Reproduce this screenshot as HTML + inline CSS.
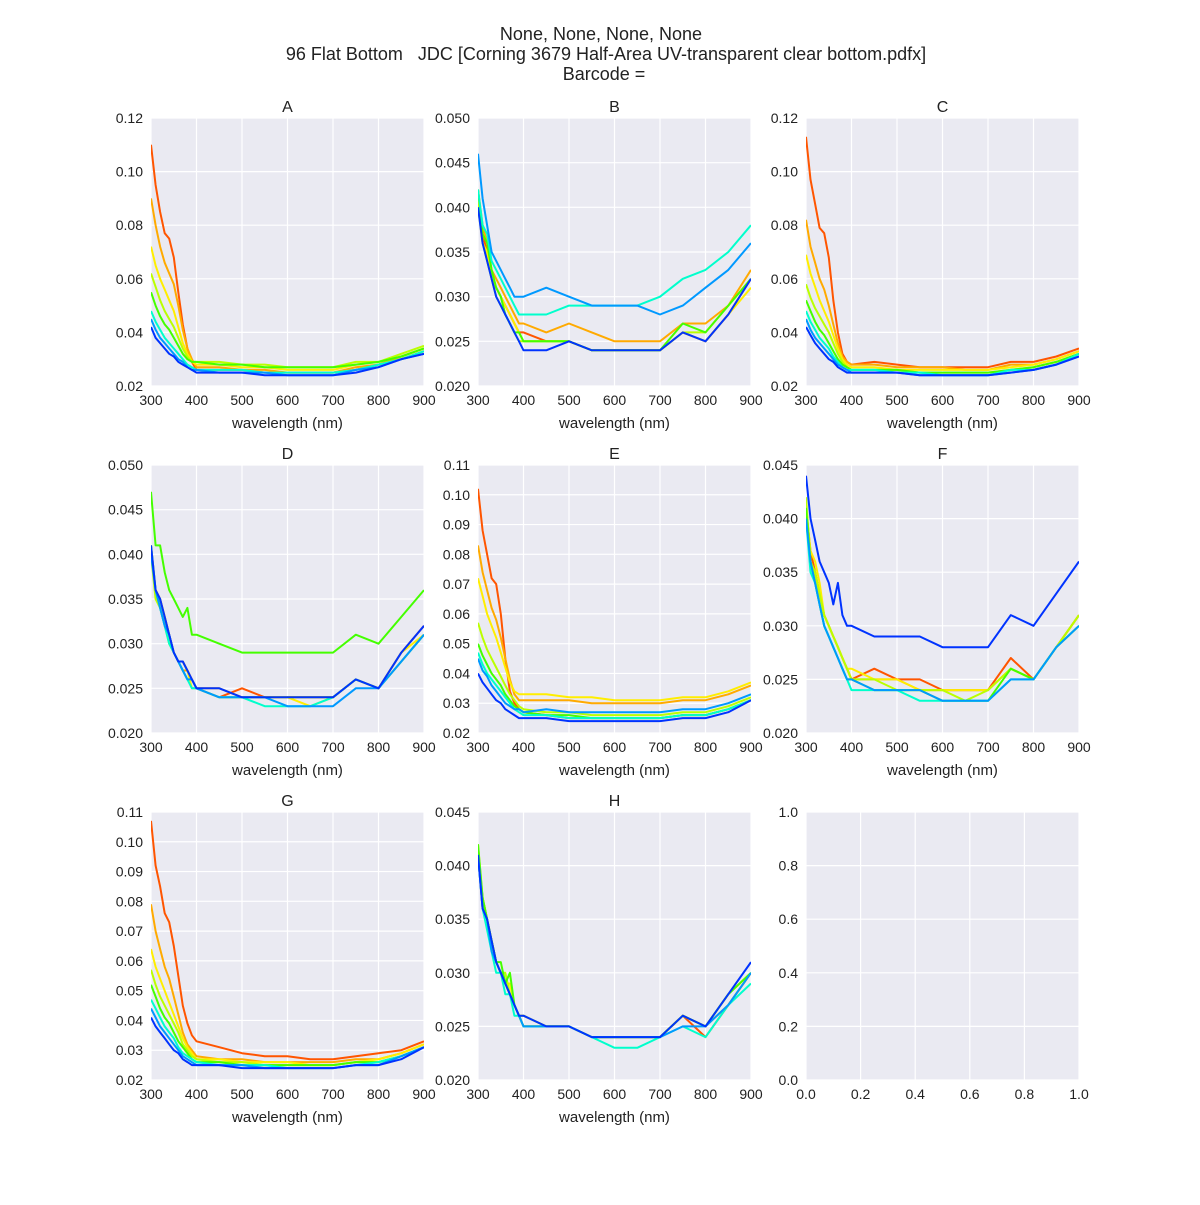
<!DOCTYPE html>
<html><head><meta charset="utf-8"><style>
body{margin:0;background:#fff;}
svg{font-family:"Liberation Sans",Arial,sans-serif;}
.pre{white-space:pre;}
</style></head><body>
<svg id="chart" width="1200" height="1200" viewBox="0 0 1200 1200">
<text x="601" y="40" font-size="18" text-anchor="middle" fill="#222">None, None, None, None</text>
<text class="pre" x="606" y="60" font-size="18" text-anchor="middle" fill="#222">96 Flat Bottom   JDC [Corning 3679 Half-Area UV-transparent clear bottom.pdfx]</text>
<text x="604" y="80" font-size="18" text-anchor="middle" fill="#222">Barcode =</text>
</svg>
<script>
const wavelengths=[300,310,320,330,340,350,360,370,380,390,400,450,500,550,600,650,700,750,800,850,900];
const seriesColors=['#ff5500','#ffaa00','#ffee00','#bbff00','#44ff00','#00ffcc','#0099ff','#0033ff'];
const panelTitles=['A','B','C','D','E','F','G','H'];
const ticksA=[0.02,0.04,0.06,0.08,0.10,0.12];
const ticksB=[0.020,0.025,0.030,0.035,0.040,0.045,0.050];
const ticksE=[0.02,0.03,0.04,0.05,0.06,0.07,0.08,0.09,0.10,0.11];
const ticksF=[0.020,0.025,0.030,0.035,0.040,0.045];
const xTicks=[300,400,500,600,700,800,900];
const emptyTicks=[0,0.2,0.4,0.6,0.8,1.0];
const dataA=[
[0.110,0.095,0.085,0.077,0.075,0.068,0.055,0.043,0.034,0.029,0.026,0.026,0.026,0.025,0.025,0.025,0.025,0.026,0.028,0.030,0.033],
[0.090,0.080,0.072,0.066,0.062,0.058,0.050,0.041,0.034,0.030,0.027,0.027,0.026,0.026,0.025,0.025,0.025,0.027,0.028,0.031,0.034],
[0.072,0.065,0.060,0.056,0.052,0.048,0.042,0.036,0.032,0.029,0.028,0.028,0.027,0.027,0.026,0.026,0.026,0.028,0.029,0.031,0.034],
[0.062,0.057,0.052,0.048,0.045,0.042,0.038,0.034,0.031,0.029,0.029,0.029,0.028,0.028,0.027,0.027,0.027,0.029,0.029,0.032,0.035],
[0.055,0.050,0.046,0.043,0.041,0.038,0.035,0.032,0.030,0.029,0.029,0.028,0.028,0.027,0.027,0.027,0.027,0.028,0.029,0.031,0.034],
[0.048,0.044,0.041,0.038,0.036,0.034,0.032,0.030,0.028,0.027,0.026,0.026,0.026,0.025,0.025,0.025,0.025,0.026,0.028,0.030,0.033],
[0.045,0.041,0.038,0.036,0.034,0.032,0.030,0.029,0.027,0.026,0.026,0.025,0.025,0.025,0.024,0.024,0.024,0.026,0.027,0.030,0.032],
[0.042,0.038,0.036,0.034,0.032,0.031,0.029,0.028,0.027,0.026,0.025,0.025,0.025,0.024,0.024,0.024,0.024,0.025,0.027,0.030,0.032]];
const dataB=[
[0.041,0.037,0.035,0.032,0.031,0.030,0.029,0.028,0.027,0.026,0.026,0.025,0.025,0.024,0.024,0.024,0.024,0.026,0.025,0.028,0.032],
[0.042,0.038,0.036,0.033,0.032,0.031,0.030,0.029,0.028,0.027,0.027,0.026,0.027,0.026,0.025,0.025,0.025,0.027,0.027,0.029,0.033],
[0.041,0.036,0.035,0.032,0.031,0.030,0.029,0.028,0.027,0.026,0.025,0.025,0.025,0.024,0.024,0.024,0.024,0.026,0.025,0.028,0.031],
[0.040,0.036,0.034,0.032,0.030,0.029,0.028,0.027,0.026,0.025,0.025,0.025,0.025,0.024,0.024,0.024,0.024,0.026,0.026,0.029,0.032],
[0.042,0.037,0.036,0.033,0.031,0.030,0.028,0.027,0.026,0.026,0.025,0.025,0.025,0.024,0.024,0.024,0.024,0.027,0.026,0.029,0.032],
[0.042,0.038,0.037,0.034,0.033,0.032,0.031,0.030,0.029,0.028,0.028,0.028,0.029,0.029,0.029,0.029,0.030,0.032,0.033,0.035,0.038],
[0.046,0.041,0.038,0.035,0.034,0.033,0.032,0.031,0.030,0.030,0.030,0.031,0.030,0.029,0.029,0.029,0.028,0.029,0.031,0.033,0.036],
[0.040,0.036,0.034,0.032,0.030,0.029,0.028,0.027,0.026,0.025,0.024,0.024,0.025,0.024,0.024,0.024,0.024,0.026,0.025,0.028,0.032]];
const dataC=[
[0.113,0.097,0.088,0.079,0.077,0.068,0.052,0.040,0.032,0.029,0.028,0.029,0.028,0.027,0.027,0.027,0.027,0.029,0.029,0.031,0.034],
[0.082,0.072,0.066,0.060,0.056,0.050,0.043,0.036,0.031,0.029,0.028,0.028,0.027,0.027,0.027,0.026,0.026,0.028,0.028,0.030,0.033],
[0.069,0.062,0.057,0.052,0.048,0.044,0.039,0.034,0.030,0.028,0.027,0.027,0.026,0.026,0.026,0.026,0.026,0.027,0.028,0.030,0.033],
[0.058,0.053,0.049,0.046,0.043,0.040,0.036,0.032,0.029,0.027,0.026,0.026,0.026,0.025,0.025,0.025,0.025,0.026,0.027,0.029,0.032],
[0.052,0.048,0.044,0.041,0.039,0.036,0.033,0.030,0.028,0.027,0.026,0.026,0.026,0.025,0.025,0.025,0.025,0.026,0.027,0.029,0.032],
[0.048,0.044,0.041,0.038,0.036,0.034,0.031,0.029,0.027,0.026,0.026,0.026,0.025,0.025,0.024,0.024,0.024,0.026,0.026,0.028,0.032],
[0.045,0.041,0.038,0.036,0.034,0.032,0.030,0.028,0.027,0.026,0.025,0.025,0.025,0.024,0.024,0.024,0.024,0.025,0.026,0.028,0.031],
[0.042,0.039,0.036,0.034,0.032,0.030,0.029,0.027,0.026,0.025,0.025,0.025,0.025,0.024,0.024,0.024,0.024,0.025,0.026,0.028,0.031]];
const dataD=[
[0.041,0.036,0.035,0.033,0.031,0.029,0.028,0.028,0.027,0.026,0.025,0.024,0.025,0.024,0.024,0.024,0.024,0.026,0.025,0.029,0.032],
[0.040,0.036,0.035,0.033,0.031,0.029,0.028,0.027,0.027,0.026,0.025,0.025,0.024,0.024,0.024,0.024,0.024,0.026,0.025,0.028,0.031],
[0.041,0.036,0.034,0.033,0.030,0.029,0.028,0.028,0.027,0.025,0.025,0.024,0.024,0.024,0.024,0.023,0.024,0.026,0.025,0.029,0.031],
[0.040,0.035,0.034,0.032,0.030,0.029,0.028,0.027,0.026,0.026,0.025,0.024,0.024,0.024,0.024,0.024,0.024,0.026,0.025,0.028,0.031],
[0.047,0.041,0.041,0.038,0.036,0.035,0.034,0.033,0.034,0.031,0.031,0.030,0.029,0.029,0.029,0.029,0.029,0.031,0.030,0.033,0.036],
[0.041,0.036,0.034,0.032,0.030,0.029,0.028,0.027,0.026,0.025,0.025,0.024,0.024,0.023,0.023,0.023,0.024,0.026,0.025,0.028,0.031],
[0.040,0.036,0.034,0.032,0.031,0.029,0.028,0.027,0.026,0.026,0.025,0.024,0.024,0.024,0.023,0.023,0.023,0.025,0.025,0.028,0.031],
[0.041,0.036,0.035,0.033,0.031,0.029,0.028,0.028,0.027,0.026,0.025,0.025,0.024,0.024,0.024,0.024,0.024,0.026,0.025,0.029,0.032]];
const dataE=[
[0.102,0.088,0.080,0.072,0.070,0.060,0.045,0.034,0.030,0.028,0.027,0.026,0.025,0.025,0.025,0.025,0.025,0.026,0.026,0.028,0.031],
[0.083,0.074,0.068,0.062,0.058,0.052,0.045,0.038,0.033,0.031,0.031,0.031,0.031,0.030,0.030,0.030,0.030,0.031,0.031,0.033,0.036],
[0.072,0.066,0.060,0.056,0.052,0.047,0.042,0.037,0.034,0.033,0.033,0.033,0.032,0.032,0.031,0.031,0.031,0.032,0.032,0.034,0.037],
[0.057,0.052,0.048,0.045,0.042,0.039,0.036,0.033,0.031,0.029,0.028,0.027,0.027,0.026,0.026,0.026,0.026,0.027,0.027,0.029,0.032],
[0.050,0.046,0.043,0.040,0.038,0.036,0.033,0.031,0.029,0.028,0.027,0.026,0.026,0.025,0.025,0.025,0.025,0.026,0.026,0.028,0.031],
[0.047,0.043,0.040,0.038,0.036,0.034,0.032,0.030,0.028,0.027,0.026,0.026,0.025,0.025,0.025,0.025,0.025,0.026,0.026,0.028,0.031],
[0.045,0.041,0.039,0.036,0.034,0.032,0.030,0.029,0.028,0.028,0.027,0.028,0.027,0.027,0.027,0.027,0.027,0.028,0.028,0.030,0.033],
[0.040,0.037,0.035,0.033,0.031,0.030,0.028,0.027,0.026,0.025,0.025,0.025,0.024,0.024,0.024,0.024,0.024,0.025,0.025,0.027,0.031]];
const dataF=[
[0.041,0.037,0.035,0.033,0.031,0.030,0.029,0.028,0.027,0.026,0.025,0.026,0.025,0.025,0.024,0.024,0.024,0.027,0.025,0.028,0.031],
[0.040,0.036,0.035,0.033,0.031,0.030,0.029,0.028,0.027,0.026,0.025,0.025,0.025,0.024,0.024,0.024,0.024,0.026,0.025,0.028,0.031],
[0.041,0.037,0.036,0.034,0.031,0.030,0.029,0.028,0.027,0.026,0.026,0.025,0.025,0.024,0.024,0.024,0.024,0.026,0.025,0.028,0.030],
[0.042,0.036,0.035,0.033,0.031,0.030,0.029,0.028,0.027,0.026,0.025,0.025,0.024,0.024,0.024,0.023,0.024,0.026,0.025,0.028,0.031],
[0.041,0.036,0.034,0.032,0.030,0.029,0.028,0.027,0.026,0.025,0.025,0.024,0.024,0.024,0.023,0.023,0.023,0.026,0.025,0.028,0.030],
[0.040,0.035,0.034,0.032,0.030,0.029,0.028,0.027,0.026,0.025,0.024,0.024,0.024,0.023,0.023,0.023,0.023,0.025,0.025,0.028,0.030],
[0.040,0.036,0.034,0.032,0.030,0.029,0.028,0.027,0.026,0.025,0.025,0.024,0.024,0.024,0.023,0.023,0.023,0.025,0.025,0.028,0.030],
[0.044,0.040,0.038,0.036,0.035,0.034,0.032,0.034,0.031,0.030,0.030,0.029,0.029,0.029,0.028,0.028,0.028,0.031,0.030,0.033,0.036]];
const dataG=[
[0.107,0.092,0.085,0.076,0.073,0.065,0.055,0.045,0.039,0.035,0.033,0.031,0.029,0.028,0.028,0.027,0.027,0.028,0.029,0.030,0.033],
[0.079,0.070,0.064,0.058,0.054,0.048,0.042,0.036,0.032,0.030,0.028,0.027,0.027,0.026,0.026,0.026,0.026,0.027,0.027,0.029,0.032],
[0.064,0.058,0.054,0.050,0.046,0.042,0.038,0.034,0.031,0.029,0.027,0.027,0.026,0.026,0.026,0.025,0.025,0.026,0.027,0.029,0.032],
[0.057,0.052,0.048,0.045,0.042,0.039,0.036,0.032,0.030,0.028,0.027,0.026,0.026,0.025,0.025,0.025,0.025,0.026,0.026,0.028,0.031],
[0.052,0.048,0.044,0.041,0.039,0.036,0.033,0.031,0.029,0.027,0.026,0.026,0.025,0.025,0.025,0.025,0.025,0.026,0.026,0.028,0.031],
[0.047,0.044,0.041,0.038,0.036,0.034,0.031,0.029,0.028,0.027,0.026,0.025,0.025,0.025,0.024,0.024,0.024,0.025,0.026,0.028,0.031],
[0.044,0.041,0.038,0.036,0.034,0.032,0.030,0.028,0.027,0.026,0.025,0.025,0.025,0.024,0.024,0.024,0.024,0.025,0.025,0.028,0.031],
[0.041,0.038,0.036,0.034,0.032,0.030,0.029,0.027,0.026,0.025,0.025,0.025,0.024,0.024,0.024,0.024,0.024,0.025,0.025,0.027,0.031]];
const dataH=[
[0.041,0.037,0.035,0.033,0.031,0.030,0.029,0.028,0.027,0.026,0.025,0.025,0.025,0.024,0.024,0.024,0.024,0.026,0.024,0.027,0.030],
[0.041,0.036,0.035,0.033,0.031,0.030,0.029,0.028,0.027,0.026,0.026,0.025,0.025,0.024,0.024,0.024,0.024,0.026,0.025,0.027,0.030],
[0.042,0.037,0.035,0.032,0.031,0.030,0.029,0.029,0.027,0.026,0.025,0.025,0.025,0.024,0.024,0.024,0.024,0.026,0.025,0.028,0.030],
[0.041,0.037,0.035,0.033,0.031,0.030,0.030,0.028,0.027,0.026,0.026,0.025,0.025,0.024,0.024,0.024,0.024,0.026,0.025,0.028,0.030],
[0.042,0.037,0.035,0.033,0.031,0.031,0.029,0.030,0.027,0.026,0.025,0.025,0.025,0.024,0.024,0.024,0.024,0.026,0.025,0.028,0.030],
[0.041,0.036,0.034,0.032,0.030,0.030,0.028,0.028,0.026,0.026,0.025,0.025,0.025,0.024,0.023,0.023,0.024,0.025,0.024,0.027,0.029],
[0.041,0.036,0.035,0.032,0.031,0.030,0.029,0.028,0.027,0.026,0.025,0.025,0.025,0.024,0.024,0.024,0.024,0.025,0.025,0.027,0.030],
[0.041,0.036,0.035,0.033,0.031,0.030,0.029,0.028,0.027,0.026,0.026,0.025,0.025,0.024,0.024,0.024,0.024,0.026,0.025,0.028,0.031]];
const panelData=[dataA,dataB,dataC,dataD,dataE,dataF,dataG,dataH];
const panelTicks=[ticksA,ticksB,ticksA,ticksB,ticksE,ticksF,ticksE,ticksF];
const panelDecimals=[2,3,2,3,2,3,2,3];

const NS='http://www.w3.org/2000/svg';
const svg=document.getElementById('chart');
const colX=[151,478,806], rowY=[118,465,812], PW=273, PH=268;
function mk(tag,attrs,parent){const e=document.createElementNS(NS,tag);for(const k in attrs)e.setAttribute(k,attrs[k]);(parent||svg).appendChild(e);return e;}
function drawAxes(g,x0,y0,xt,yt,xs,ys,dec,xdec,xlabel){
  mk('rect',{x:x0,y:y0,width:PW,height:PH,fill:'#eaeaf2'},g);
  xt.forEach(v=>{const x=xs(v);mk('line',{x1:x,x2:x,y1:y0,y2:y0+PH,stroke:'#fff','stroke-width':1.2},g);
    const t=mk('text',{x:x,y:y0+PH+19,'font-size':14,'text-anchor':'middle',fill:'#222'},g);t.textContent=v.toFixed(xdec);
    });
  yt.forEach(v=>{const y=ys(v);mk('line',{x1:x0,x2:x0+PW,y1:y,y2:y,stroke:'#fff','stroke-width':1.2},g);
    const t=mk('text',{x:x0-8,y:y+5,'font-size':14,'text-anchor':'end',fill:'#222'},g);t.textContent=v.toFixed(dec);
    });
  if(xlabel){const t=mk('text',{x:x0+PW/2,y:y0+PH+42,'font-size':15,'text-anchor':'middle',fill:'#222'},g);t.textContent=xlabel;
    }
}
panelData.forEach((series,p)=>{
  const x0=colX[p%3], y0=rowY[Math.floor(p/3)];
  const yt=panelTicks[p], ymin=yt[0], ymax=yt[yt.length-1];
  const xs=v=>x0+(v-300)/600*PW, ys=v=>y0+PH-(v-ymin)/(ymax-ymin)*PH;
  const g=mk('g',{});
  
  
  drawAxes(g,x0,y0,xTicks,yt,xs,ys,panelDecimals[p],0,'wavelength (nm)');
  const tt=mk('text',{x:x0+PW/2,y:y0-6,'font-size':16,'text-anchor':'middle',fill:'#222'},g);tt.textContent=panelTitles[p];
  
  const cp=mk('clipPath',{id:'cp'+p},g);mk('rect',{x:x0,y:y0,width:PW,height:PH},cp);
  series.forEach((vals,i)=>{
    const d=vals.map((v,j)=>(j?'L':'M')+xs(wavelengths[j]).toFixed(1)+','+ys(v).toFixed(1)).join('');
    const path=mk('path',{d:d,fill:'none',stroke:seriesColors[i],'stroke-width':2,'stroke-linejoin':'round','clip-path':'url(#cp'+p+')'},g);
    
    
  });
});
(function(){const x0=colX[2],y0=rowY[2];
  const g=mk('g',{});
  
  
  drawAxes(g,x0,y0,emptyTicks,emptyTicks,v=>x0+v*PW,v=>y0+PH-v*PH,1,1,null);
})();
</script>
</body></html>
